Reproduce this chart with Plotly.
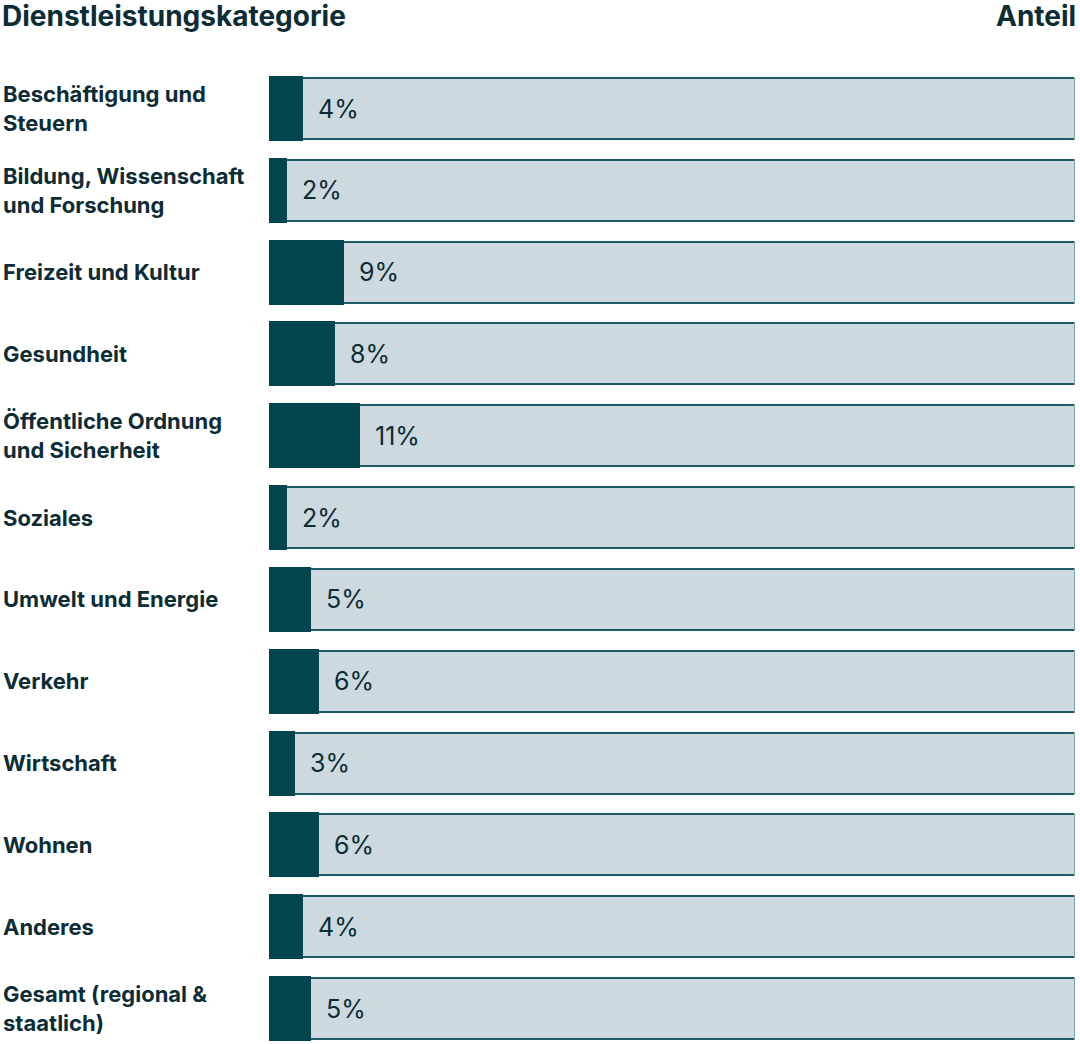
import plotly.graph_objects as go

categories = [
    "Beschäftigung und<br>Steuern",
    "Bildung, Wissenschaft<br>und Forschung",
    "Freizeit und Kultur",
    "Gesundheit",
    "Öffentliche Ordnung<br>und Sicherheit",
    "Soziales",
    "Umwelt und Energie",
    "Verkehr",
    "Wirtschaft",
    "Wohnen",
    "Anderes",
    "Gesamt (regional &<br>staatlich)",
]
values = [4, 2, 9, 8, 11, 2, 5, 6, 3, 6, 4, 5]
totals = [100] * len(values)
header_left = "Dienstleistungskategorie"
header_right = "Anteil"

W, H = 1080, 1044
DARK = "#03454f"
LIGHT = "#ccd9de"
BORDER = "#1d5b65"
TEXT = "#0c2c36"
FONT = "Inter"

ypos = list(range(len(categories)))

fig = go.Figure()
fig.add_trace(go.Bar(
    y=ypos, x=totals, orientation="h", base=0,
    marker=dict(color=LIGHT, line=dict(color=BORDER, width=2)),
    width=0.745, hoverinfo="skip", showlegend=False,
))
fig.add_trace(go.Bar(
    y=ypos, x=values, orientation="h", base=0,
    marker=dict(color=DARK, line=dict(color=DARK, width=4)),
    width=0.745, hoverinfo="skip", showlegend=False,
))
fig.update_layout(barmode="overlay")

# value labels
for y, v in zip(ypos, values):
    fig.add_annotation(x=v, y=y, xref="x", yref="y", text=f"{v}%",
                       showarrow=False, xanchor="left", yanchor="middle",
                       xshift=15, font=dict(family=FONT, size=25, color=TEXT))

# category labels
for y, c in zip(ypos, categories):
    fig.add_annotation(x=1 / W, y=y, xref="paper", yref="y", text=f"<b>{c}</b>",
                       showarrow=False, xanchor="left", yanchor="middle", align="left",
                       font=dict(family=FONT, size=22, color=TEXT))

fig.add_annotation(x=0, y=1 - 16 / H, xref="paper", yref="paper",
                   text=f"<b>{header_left}</b>", showarrow=False,
                   xanchor="left", yanchor="middle",
                   font=dict(family=FONT, size=28, color=TEXT))
fig.add_annotation(x=1078 / W, y=1 - 16 / H, xref="paper", yref="paper",
                   text=f"<b>{header_right}</b>", showarrow=False,
                   xanchor="right", yanchor="middle",
                   font=dict(family=FONT, size=28, color=TEXT))

px_per = (1008.5 - 108.5) / 11
y_top = -108.5 / px_per
y_bot = 11 + (H - 1008.5) / px_per

fig.update_layout(
    width=W, height=H,
    margin=dict(l=0, r=0, t=0, b=0),
    paper_bgcolor="white", plot_bgcolor="white",
    xaxis=dict(domain=[269 / W, 1074.5 / W], range=[0, 100], visible=False, fixedrange=True),
    yaxis=dict(domain=[0, 1], range=[y_bot, y_top], visible=False, fixedrange=True),
    bargap=0,
)

fig.write_html(
    "out.html",
    config={"displayModeBar": False},
    post_script="document.body.style.margin='0';document.body.style.overflow='hidden';",
)
